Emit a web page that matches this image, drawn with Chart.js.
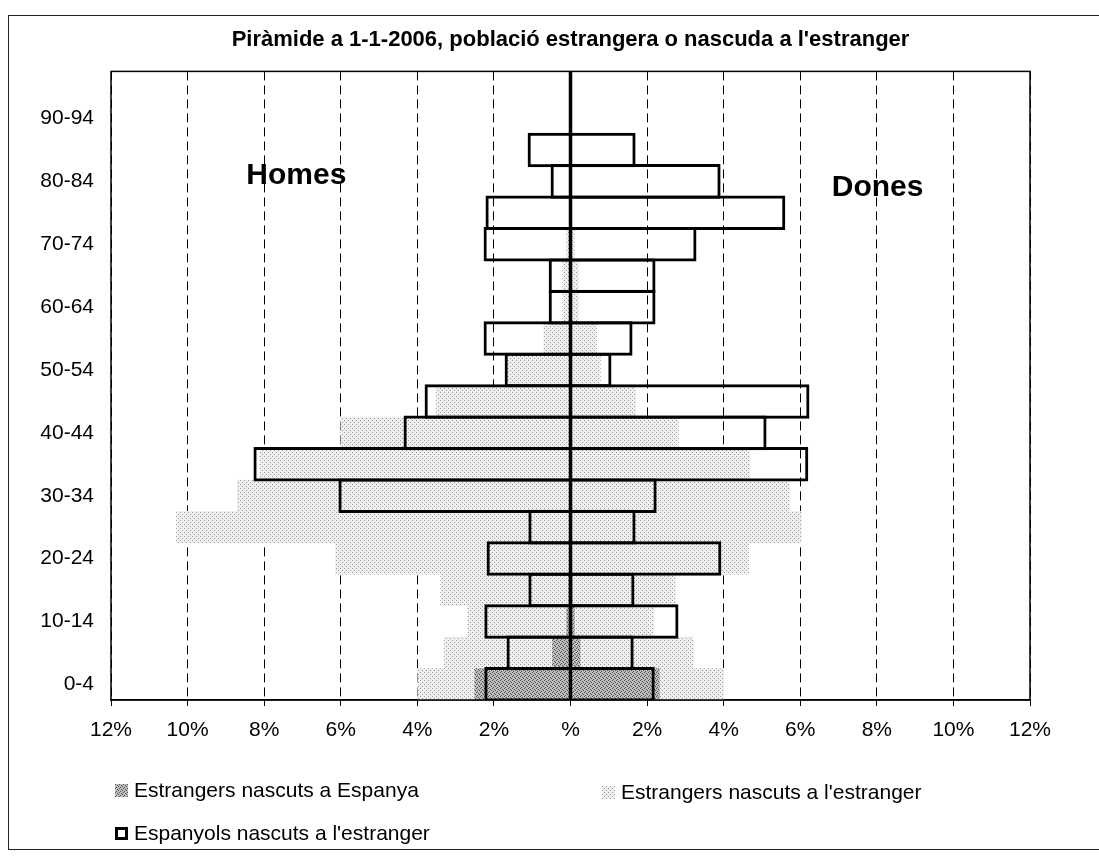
<!DOCTYPE html>
<html>
<head>
<meta charset="utf-8">
<script src="https://cdn.jsdelivr.net/npm/chart.js@4"></script>
<style>
html,body{margin:0;padding:0;background:#fff;}
#wrap{position:relative;width:1099px;height:857px;overflow:hidden;background:#fff;}
#frame{position:absolute;left:8px;top:15px;width:1200px;height:833px;border-left:1.5px solid #222;border-top:1.5px solid #222;border-bottom:1.5px solid #222;}
#c{position:absolute;left:0;top:0;}
.leg{position:absolute;font:21px "Liberation Sans",Arial,sans-serif;color:#000;white-space:nowrap;display:flex;align-items:center;height:26px;}
.sw{width:13px;height:13px;margin-right:6px;box-sizing:border-box;}
</style>
</head>
<body>
<div id="wrap">
  <div id="frame"></div>
  <canvas id="c" width="1099" height="857"></canvas>
</div>
<script>
// ---- Data (percent of population) ----
const ages = ['0-4','5-9','10-14','15-19','20-24','25-29','30-34','35-39','40-44','45-49',
              '50-54','55-59','60-64','65-69','70-74','75-79','80-84','85-89','90-94','95-99'];

const seriesLabels = ['Estrangers nascuts a Espanya', "Estrangers nascuts a l'estranger", "Espanyols nascuts a l'estranger"];

// Estrangers nascuts a Espanya
const menBornSpain   = [2.50, 0.47, 0.10, 0.05, 0, 0, 0, 0, 0, 0, 0, 0, 0, 0, 0, 0, 0, 0, 0, 0];
const womenBornSpain = [2.32, 0.25, 0.10, 0.05, 0, 0, 0, 0, 0, 0, 0, 0, 0, 0, 0, 0, 0, 0, 0, 0];

// Estrangers nascuts a l'estranger
const menForeignAbroad   = [3.99, 3.29, 2.69, 3.39, 6.14, 10.29, 8.70, 8.10, 6.00, 3.50, 1.62, 0.70, 0.20, 0.20, 0.10, 0, 0, 0, 0, 0];
const womenForeignAbroad = [4.00, 3.20, 2.17, 2.74, 4.65, 6.03, 5.72, 4.68, 2.82, 1.70, 0.78, 0.68, 0.20, 0.20, 0.10, 0, 0, 0, 0, 0];

// Espanyols nascuts a l'estranger
const menSpanishAbroad   = [2.25, 1.67, 2.25, 1.10, 2.19, 1.10, 6.06, 8.28, 4.36, 3.81, 1.72, 2.27, 0.57, 0.57, 2.27, 2.22, 0.52, 1.12, 0, 0];
const womenSpanishAbroad = [2.20, 1.65, 2.82, 1.67, 3.94, 1.70, 2.25, 6.21, 5.12, 6.24, 1.07, 1.62, 2.22, 2.22, 3.29, 5.61, 3.92, 1.70, 0, 0];

const xTickValues = [-12,-10,-8,-6,-4,-2,0,2,4,6,8,10,12];
const xTickLabels = ['12%','10%','8%','6%','4%','2%','%','2%','4%','6%','8%','10%','12%'];

// ---- Patterns ----
function makePattern(base, dot, coords, size) {
  const c = document.createElement('canvas');
  c.width = c.height = size;
  const x = c.getContext('2d');
  x.fillStyle = base; x.fillRect(0, 0, size, size);
  x.fillStyle = dot;
  coords.forEach(([a, b]) => x.fillRect(a, b, 1, 1));
  return c;
}
const lightCanvas = makePattern('#efefef', '#9a9a9a', [[0,0],[2,2]], 4);
const darkCanvas  = makePattern('#bcbcbc', '#555555', [[0,0],[2,1],[1,3],[3,2]], 4);
const ctx = document.getElementById('c').getContext('2d');
const lightPat = ctx.createPattern(lightCanvas, 'repeat');
const darkPat  = ctx.createPattern(darkCanvas, 'repeat');

const FONT = '"Liberation Sans", Arial, sans-serif';

function ds(label, values, sign, opts) {
  return Object.assign({
    label,
    data: values.map(v => v ? sign * v : null),
    grouped: false,
    barPercentage: 1,
    categoryPercentage: 1,
    borderWidth: 0,
    borderSkipped: 'start'
  }, opts);
}

const datasets = [
  ds(seriesLabels[2], menSpanishAbroad, -1,   {backgroundColor:'rgba(0,0,0,0)', borderColor:'#000', borderWidth:3, barPercentage:1.1, order:0}),
  ds(seriesLabels[2], womenSpanishAbroad, 1,  {backgroundColor:'rgba(0,0,0,0)', borderColor:'#000', borderWidth:3, barPercentage:1.1, order:0}),
  ds(seriesLabels[0], menBornSpain, -1,       {backgroundColor:darkPat, order:1}),
  ds(seriesLabels[0], womenBornSpain, 1,      {backgroundColor:darkPat, order:1}),
  ds(seriesLabels[1], menForeignAbroad, -1,   {backgroundColor:lightPat, order:2}),
  ds(seriesLabels[1], womenForeignAbroad, 1,  {backgroundColor:lightPat, order:2})
];

const overlay = {
  id: 'overlay',
  afterDatasetsDraw(chart) {
    const {ctx, chartArea: a, scales: {x, y}} = chart;
    ctx.save();
    // centre line
    const x0 = x.getPixelForValue(0);
    ctx.strokeStyle = '#000';
    ctx.lineWidth = 3.5;
    ctx.beginPath(); ctx.moveTo(x0, a.top); ctx.lineTo(x0, a.bottom); ctx.stroke();
    // plot frame
    ctx.lineWidth = 1.5;
    ctx.strokeRect(a.left, a.top, a.right - a.left, a.bottom - a.top);
    // side labels
    ctx.fillStyle = '#000';
    ctx.font = 'bold 30px ' + FONT;
    ctx.textAlign = 'center';
    ctx.textBaseline = 'alphabetic';
    ctx.fillText('Homes', x.getPixelForValue(-7.16), y.getPixelForValue(15.93));
    ctx.fillText('Dones', x.getPixelForValue(8.02), y.getPixelForValue(15.55));
    ctx.restore();
  }
};

new Chart(ctx, {
  type: 'bar',
  data: { labels: ages, datasets },
  options: {
    indexAxis: 'y',
    responsive: false,
    animation: false,
    layout: { padding: { left: 0, right: 69, top: 0, bottom: 107 } },
    plugins: {
      legend: { display: false },
      tooltip: { enabled: false },
      title: {
        display: true,
        fullSize: false,
        text: "Piràmide a 1-1-2006, població estrangera o nascuda a l'estranger",
        color: '#000',
        font: { family: FONT, size: 22, weight: 'bold' },
        padding: { top: 27, bottom: 18 }
      }
    },
    scales: {
      x: {
        type: 'linear',
        min: -12, max: 12,
        afterBuildTicks: s => { s.ticks = xTickValues.map(v => ({value: v})); },
        ticks: {
          color: '#000',
          font: { family: FONT, size: 21 },
          padding: 12,
          maxRotation: 0,
          callback: v => xTickLabels[xTickValues.indexOf(v)]
        },
        grid: {
          color: c => (c.tick && c.tick.value === 0) ? 'rgba(0,0,0,0)' : '#000',
          lineWidth: 1,
          drawTicks: true,
          tickLength: 6,
          tickColor: '#000',
          tickWidth: 1
        },
        border: { display: true, color: '#000', width: 1.5, dash: [9, 5] },
        afterFit: s => { s.height = 50; }
      },
      y: {
        type: 'category',
        reverse: true,
        offset: true,
        grid: { display: false, drawTicks: false },
        border: { display: false },
        ticks: {
          autoSkip: false,
          padding: 17,
          color: '#000',
          font: { family: FONT, size: 21 },
          callback: v => (v % 2 === 0 ? ages[v] : '')
        },
        afterFit: s => { s.width = 111; }
      }
    }
  },
  plugins: [overlay]
});

// ---- HTML legend ----
const wrap = document.getElementById('wrap');
const legendItems = [
  { text: seriesLabels[0], left: 115, top: 777, sw: 'background:url(' + darkCanvas.toDataURL() + ');' },
  { text: seriesLabels[1], left: 602, top: 779, sw: 'background:url(' + lightCanvas.toDataURL() + ');' },
  { text: seriesLabels[2], left: 115, top: 820, sw: 'background:#fff;border:3px solid #000;' }
];
legendItems.forEach(it => {
  const d = document.createElement('div');
  d.className = 'leg';
  d.style.left = it.left + 'px';
  d.style.top = it.top + 'px';
  const s = document.createElement('span');
  s.className = 'sw';
  s.setAttribute('style', it.sw);
  const t = document.createElement('span');
  t.textContent = it.text;
  d.appendChild(s); d.appendChild(t);
  wrap.appendChild(d);
});
</script>
</body>
</html>
